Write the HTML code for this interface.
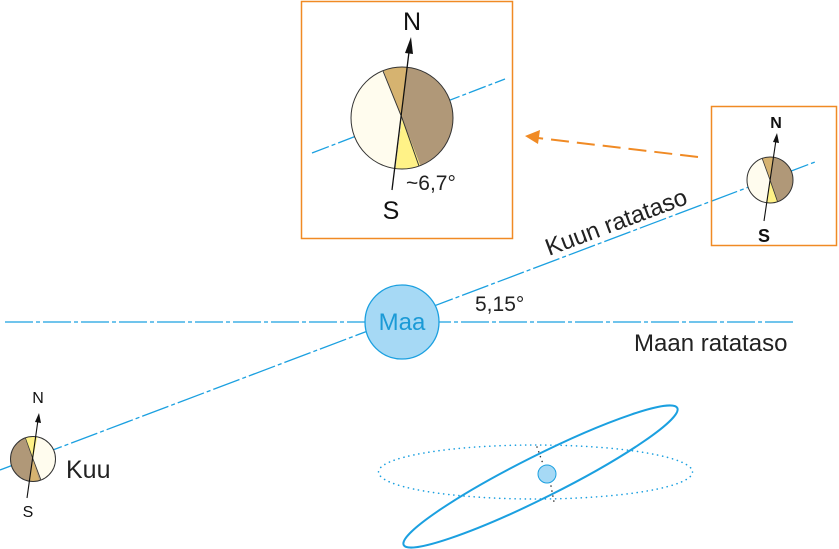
<!DOCTYPE html>
<html><head><meta charset="utf-8"><style>
html,body{margin:0;padding:0;background:#fff;}
svg{display:block;font-family:"Liberation Sans",sans-serif;}
</style></head><body>
<svg width="839" height="549" viewBox="0 0 839 549" xmlns="http://www.w3.org/2000/svg">
<defs>
<clipPath id="cb"><circle cx="402" cy="118" r="51"/></clipPath>
<clipPath id="cs"><circle cx="770" cy="180" r="23"/></clipPath>
<clipPath id="ck"><circle cx="33" cy="459" r="22.5"/></clipPath>
</defs>
<!-- orbital lines -->
<line x1="5" y1="322" x2="795" y2="322" stroke="#1ba0e0" stroke-width="1.3" stroke-dasharray="28,3,4,3"/>
<line x1="0" y1="470" x2="815" y2="162" stroke="#1ba0e0" stroke-width="1.3" stroke-dasharray="28,3,4,3"/>
<!-- Maa -->
<circle cx="402" cy="322" r="37" fill="#a6d9f5" stroke="#1ba0e0" stroke-width="1.3"/>
<text x="402" y="330" font-size="24" fill="#1b9ad6" text-anchor="middle">Maa</text>
<text x="475" y="311" font-size="21" fill="#222">5,15°</text>
<text x="634" y="351" font-size="24" fill="#222">Maan ratataso</text>
<text x="0" y="0" font-size="24" fill="#222" transform="translate(549,256) rotate(-20.6)">Kuun ratataso</text>

<!-- big box -->
<rect x="301.5" y="1.5" width="211" height="237" fill="#fff" stroke="#f08a24" stroke-width="1.5"/>
<line x1="312" y1="153" x2="505" y2="79" stroke="#1ba0e0" stroke-width="1.3" stroke-dasharray="18,3,4,3"/>
<g clip-path="url(#cb)">
<circle cx="402" cy="118" r="51" fill="#b09878"/>
<polygon points="402,118 374,46 330,60 330,200 392,196" fill="#fffcee"/>
<polygon points="402,118 374,46 410,44" fill="#d6b370"/>
<polygon points="402,118 392,196 430,190" fill="#fff287"/>
<line x1="402" y1="118" x2="383" y2="71" stroke="#333" stroke-width="1"/>
<line x1="402" y1="118" x2="419" y2="166" stroke="#333" stroke-width="1"/>
</g>
<circle cx="402" cy="118" r="51" fill="none" stroke="#333" stroke-width="1"/>
<line x1="392" y1="190" x2="409" y2="52" stroke="#111" stroke-width="1.3"/>
<polygon points="411,37 405,53 413,54" fill="#111"/>
<text x="412" y="30" font-size="25" fill="#111" text-anchor="middle">N</text>
<text x="391" y="219" font-size="25" fill="#111" text-anchor="middle">S</text>
<text x="406" y="190" font-size="21" fill="#222">~6,7°</text>

<!-- small box -->
<rect x="711.5" y="106.5" width="125" height="139" fill="none" stroke="#f08a24" stroke-width="1.5"/>
<g clip-path="url(#cs)">
<circle cx="770" cy="180" r="23" fill="#b09878"/>
<polygon points="770,180 758,147 730,150 730,216 765,216" fill="#fffcee"/>
<polygon points="770,180 758,147 776,145" fill="#d6b370"/>
<polygon points="770,180 765,216 782,213" fill="#fff287"/>
<line x1="770" y1="180" x2="762" y2="158" stroke="#333" stroke-width="0.8"/>
<line x1="770" y1="180" x2="778" y2="203" stroke="#333" stroke-width="0.8"/>
</g>
<circle cx="770" cy="180" r="23" fill="none" stroke="#333" stroke-width="1"/>
<line x1="764" y1="221" x2="776" y2="140" stroke="#111" stroke-width="1.1"/>
<polygon points="777,133 773,142 779,143" fill="#111"/>
<text x="776" y="128" font-size="16" font-weight="bold" fill="#111" text-anchor="middle">N</text>
<text x="764" y="242" font-size="18" font-weight="bold" fill="#111" text-anchor="middle">S</text>

<!-- arrow -->
<line x1="698" y1="157" x2="538" y2="138" stroke="#f08a24" stroke-width="2" stroke-dasharray="18,8"/>
<polygon points="525,136 540,130 538,144" fill="#f08a24"/>

<!-- Kuu -->
<g clip-path="url(#ck)">
<circle cx="33" cy="459" r="22.5" fill="#b09878"/>
<polygon points="33,459 24,436 40,434 70,434 70,500 45,490" fill="#fffcee"/>
<polygon points="33,459 24,436 38,434" fill="#fff287"/>
<polygon points="33,459 28,490 42,490" fill="#d6b370"/>
<line x1="33" y1="459" x2="25" y2="437" stroke="#333" stroke-width="0.8"/>
<line x1="33" y1="459" x2="41" y2="480" stroke="#333" stroke-width="0.8"/>
</g>
<circle cx="33" cy="459" r="22.5" fill="none" stroke="#333" stroke-width="1"/>
<line x1="27" y1="498" x2="38" y2="420" stroke="#111" stroke-width="1.1"/>
<polygon points="39,413 35,422 41,423" fill="#111"/>
<text x="38" y="403" font-size="16" fill="#111" text-anchor="middle">N</text>
<text x="28" y="517" font-size="16" fill="#111" text-anchor="middle">S</text>
<text x="66" y="478" font-size="25" fill="#222">Kuu</text>

<!-- bottom orbit diagram -->
<ellipse cx="535.5" cy="472" rx="157" ry="27" fill="none" stroke="#1ba0e0" stroke-width="1.6" stroke-dasharray="0.1,5" stroke-linecap="round"/>
<ellipse cx="540.5" cy="476.5" rx="153" ry="21" fill="none" stroke="#1ba0e0" stroke-width="2" transform="rotate(-26.6 540.5 476.5)"/>
<line x1="537" y1="447" x2="543" y2="464" stroke="#333" stroke-width="1.5" stroke-dasharray="0.1,5" stroke-linecap="round"/>
<line x1="551" y1="486" x2="554" y2="502" stroke="#333" stroke-width="1.5" stroke-dasharray="0.1,5" stroke-linecap="round"/>
<circle cx="547" cy="474" r="9" fill="#a6d9f5" stroke="#1ba0e0" stroke-width="1"/>
</svg>
</body></html>
